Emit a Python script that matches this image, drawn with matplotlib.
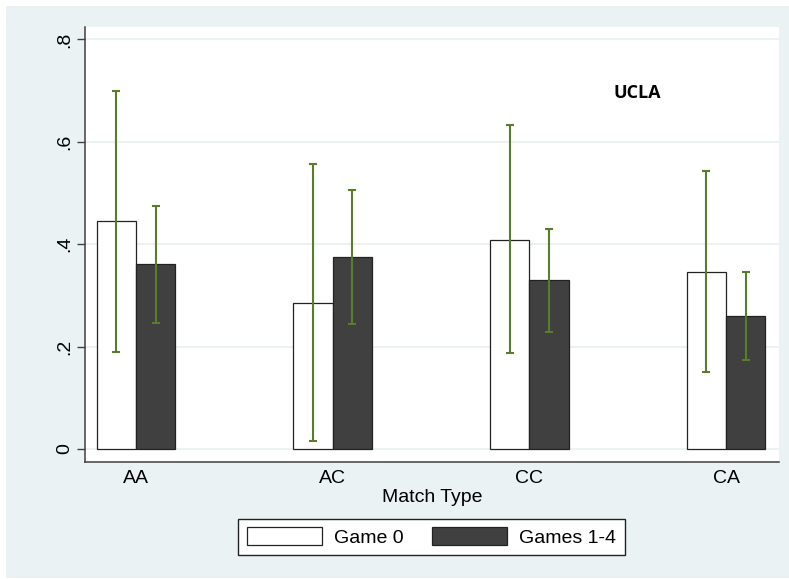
import matplotlib
matplotlib.use("Agg")
import matplotlib.pyplot as plt
from matplotlib.patches import Rectangle
import numpy as np

categories = ["AA", "AC", "CC", "CA"]
series_names = ["Game 0", "Games 1-4"]
game0_mean = [0.445, 0.286, 0.409, 0.346]
game0_lo = [0.190, 0.016, 0.187, 0.151]
game0_hi = [0.699, 0.556, 0.632, 0.542]
games14_mean = [0.361, 0.375, 0.330, 0.260]
games14_lo = [0.247, 0.245, 0.229, 0.174]
games14_hi = [0.474, 0.505, 0.429, 0.345]
yticks = [0, 0.2, 0.4, 0.6, 0.8]
ytick_labels = ["0", ".2", ".4", ".6", ".8"]
annotation = "UCLA"

W, H = 789, 579
plt.rcParams['font.family'] = ['Liberation Sans', 'DejaVu Sans']
fig = plt.figure(figsize=(W / 100, H / 100), dpi=100)
fig.patch.set_facecolor("white")
bg = "#eaf2f3"
fig.add_artist(Rectangle((6 / W, 1 / H), 1 - 6 / W, (H - 7) / H,
                         transform=fig.transFigure, facecolor=bg,
                         edgecolor="none", zorder=-10))

ax = fig.add_axes([85 / W, (H - 462) / H, (779 - 85) / W, (462 - 27) / H])
ax.set_facecolor("white")

x = np.arange(len(categories))
bw = 0.2
err_color = "#5a7d2a"

def draw(offset, mean, lo, hi, fc, ec, label):
    ax.bar(x + offset, mean, width=bw, color=fc, edgecolor=ec, linewidth=0.9,
           label=label, zorder=2)
    mean = np.array(mean)
    yerr = np.vstack([mean - np.array(lo), np.array(hi) - mean])
    ax.errorbar(x + offset, mean, yerr=yerr, fmt="none", ecolor=err_color,
                elinewidth=1.5, capsize=3.2, capthick=1.5, zorder=3)

draw(-bw / 2, game0_mean, game0_lo, game0_hi, "white", "#222222", series_names[0])
draw(bw / 2, games14_mean, games14_lo, games14_hi, "#404040", "#222222", series_names[1])

ax.set_xlim(-0.259, 3.269)
ax.set_ylim(-0.0254, 0.8242)
ax.set_yticks(yticks)
ax.set_yticklabels(ytick_labels, rotation=90, va="center", fontsize=14)
ax.set_xticks(x)
ax.set_xticklabels(categories, fontsize=14)
ax.tick_params(axis="x", length=0, pad=6)
ax.tick_params(axis="y", length=5.8, width=1, color="#404040", pad=3)
ax.grid(axis="y", color=bg, linewidth=1.5, zorder=0)
ax.set_axisbelow(True)
for s in ["top", "right"]:
    ax.spines[s].set_visible(False)
for s in ["left", "bottom"]:
    ax.spines[s].set_color("#404040")
    ax.spines[s].set_linewidth(1.1)
ax.set_xlabel("Match Type", fontsize=14, labelpad=1)

fig.text(637 / W, 1 - 93 / H, annotation, ha="center", va="center",
         fontsize=13, fontweight="bold", family=["Open Sans", "DejaVu Sans"])

leg = fig.legend(loc="center", bbox_to_anchor=((235 + 628) / 2 / W, (H - 537) / H),
                 ncol=2, fontsize=14, frameon=True, fancybox=False,
                 handlelength=3.85, handleheight=1.0, handletextpad=0.6,
                 columnspacing=1.5, borderpad=0.45, borderaxespad=0)
leg.get_frame().set_edgecolor("#222222")
leg.get_frame().set_linewidth(1.0)
leg.get_frame().set_facecolor("white")
leg.get_frame().set_alpha(1)

fig.savefig("out.png", dpi=100)
